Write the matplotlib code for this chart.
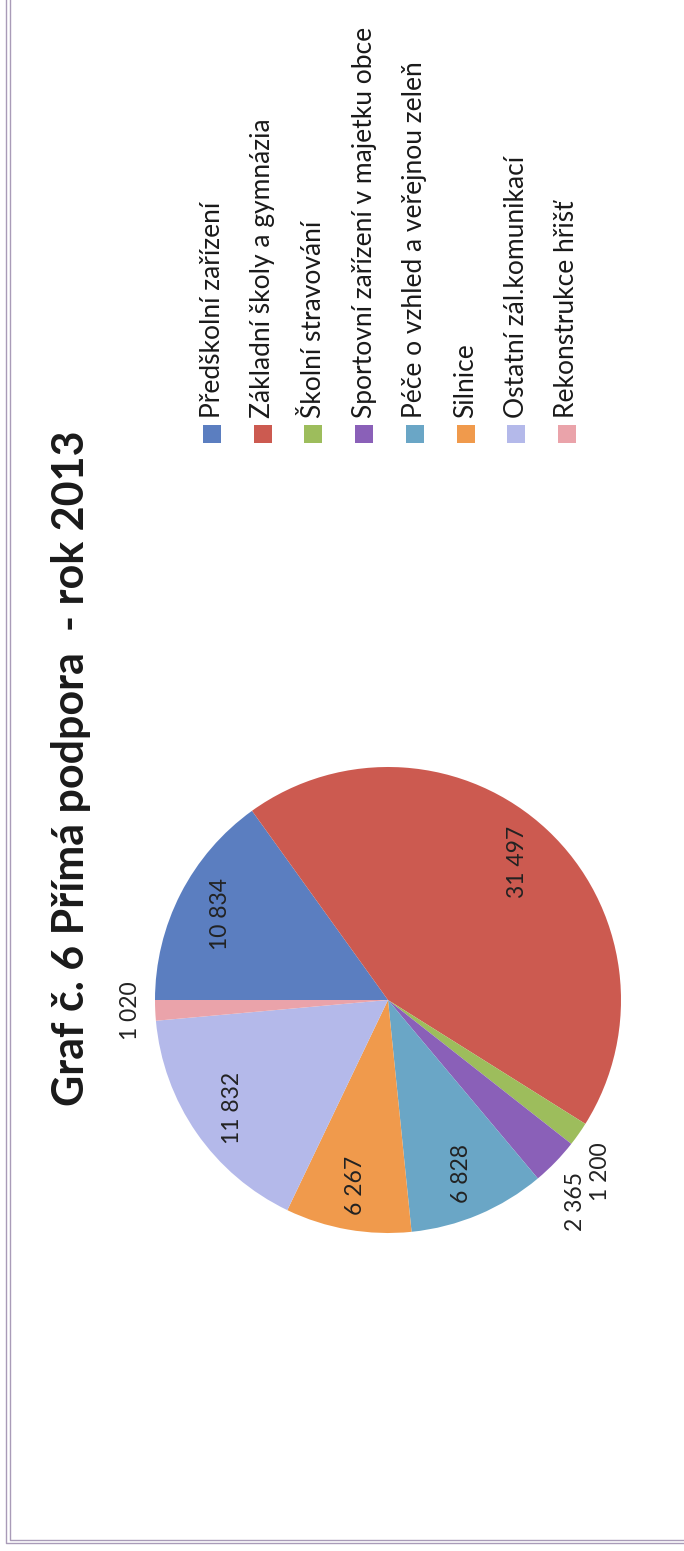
import numpy as np
import matplotlib
matplotlib.use('Agg')
import matplotlib.pyplot as plt
from matplotlib.lines import Line2D
from matplotlib.patches import Rectangle

# Data - přímá podpora, rok 2013
kategorie = ['Předškolní zařízení', 'Základní školy a gymnázia', 'Školní stravování',
             'Sportovní zařízení v majetku obce', 'Péče o vzhled a veřejnou zeleň',
             'Silnice', 'Ostatní zál.komunikací', 'Rekonstrukce hřišť']
hodnoty = [10834, 31497, 1200, 2365, 6828, 6267, 11832, 1020]
barvy = ['#5b7ec0', '#cc5a50', '#9dbd5c', '#8a60b8', '#6aa6c6', '#f09a4c', '#b4b9ea', '#eaa3aa']
titulek = 'Graf č. 6 Přímá podpora  - rok 2013'

plt.rcParams['font.family'] = ['Lato', 'DejaVu Sans']

# graf je v originale otočený o 90 stupňů, kreslíme rovnou na výšku
W, H = 684, 1551
fig = plt.figure(figsize=(W / 100, H / 100), dpi=100)


def fx(x):
    return x / W


def fy(y):
    return 1 - y / H


# koláč
cx, cy, r = 388, 1000, 233
ax = fig.add_axes([fx(cx - r), fy(cy + r), 2 * r / W, 2 * r / H])
wedges, _ = ax.pie(hodnoty, colors=barvy, startangle=180, counterclock=False,
                   wedgeprops={'linewidth': 0})
ax.set_xlim(-1, 1)
ax.set_ylim(-1, 1)

celkem = sum(hodnoty)
for w, v in zip(wedges, hodnoty):
    uhel = np.deg2rad((w.theta1 + w.theta2) / 2)
    c, s = np.cos(uhel), np.sin(uhel)
    txt = f'{v:,}'.replace(',', ' ')
    if v / celkem > 0.05:
        ax.text(0.81 * c, 0.81 * s, txt, rotation=90, ha='center', va='center',
                fontsize=16.5, color='#222222')
    else:
        ha = 'left' if c > 0 else 'right'
        va = 'top' if s < -0.3 else 'center'
        ax.text(1.06 * c, 1.06 * s, txt, rotation=90, ha=ha, va=va,
                fontsize=16.5, color='#222222', clip_on=False)

# titulek
fig.text(fx(71), fy(768), titulek, rotation=90, ha='center', va='center',
         fontsize=31, fontweight='bold', color='#1a1a1a')

# legenda
for i, (k, b) in enumerate(zip(kategorie, barvy)):
    x = 212 + 50.7 * i
    fig.add_artist(Rectangle((fx(x - 9), fy(443)), 18 / W, 18 / H, facecolor=b,
                             edgecolor='none', transform=fig.transFigure))
    fig.text(fx(x), fy(418), k, rotation=90, ha='center', va='bottom',
             fontsize=19, color='#1a1a1a')

# dvojitý rámeček
for d in (0, 3.5):
    x0 = 6 + d
    y0 = 1543 - d
    fig.add_artist(Line2D([fx(x0), fx(x0), 1], [1, fy(y0), fy(y0)],
                          color='#a99bb8', lw=1.0, transform=fig.transFigure))

fig.savefig('out.png', dpi=100)
